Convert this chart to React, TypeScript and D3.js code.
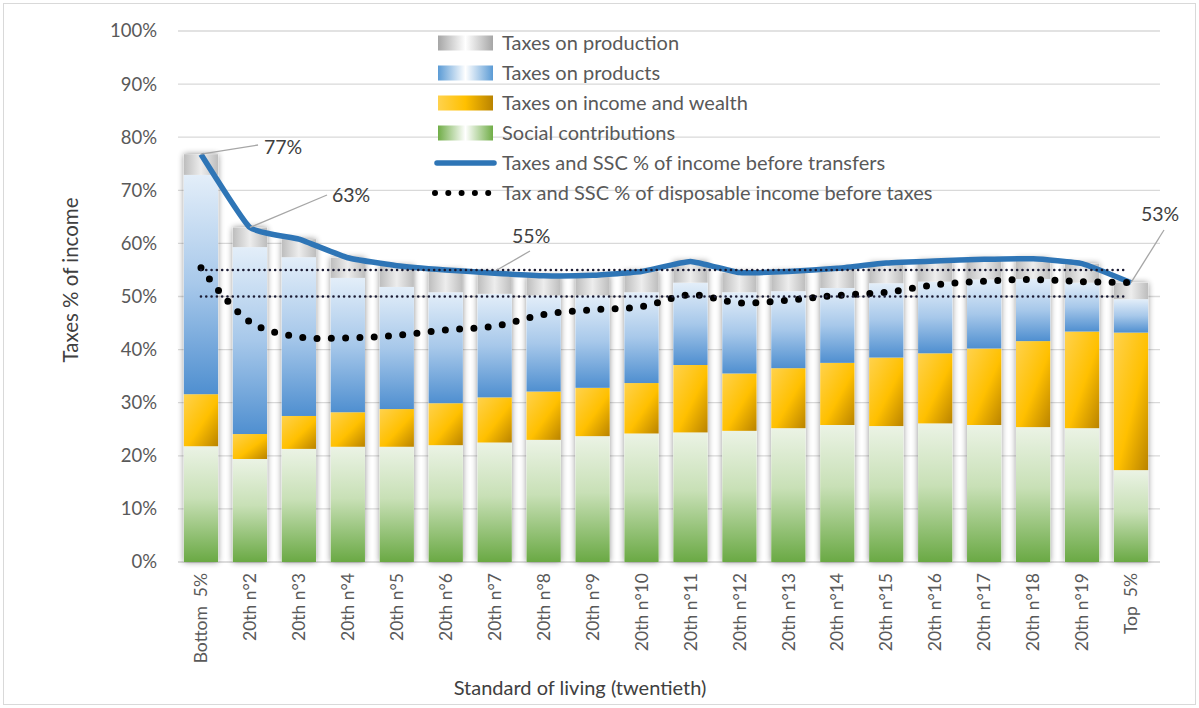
import React from "react";
import * as d3 from "d3";

// values in % of income
const categories = [
  "Bottom  5%", "20th n°2", "20th n°3", "20th n°4", "20th n°5", "20th n°6", "20th n°7",
  "20th n°8", "20th n°9", "20th n°10", "20th n°11", "20th n°12", "20th n°13", "20th n°14",
  "20th n°15", "20th n°16", "20th n°17", "20th n°18", "20th n°19", "Top  5%",
];
const socialContrib = [21.8, 19.4, 21.3, 21.7, 21.7, 22.0, 22.5, 23.0, 23.7, 24.2, 24.4, 24.7, 25.2, 25.8, 25.6, 26.1, 25.8, 25.4, 25.2, 17.3];
const incomeWealth = [9.8, 4.7, 6.2, 6.5, 7.1, 7.9, 8.5, 9.1, 9.1, 9.5, 12.7, 10.8, 11.3, 11.7, 12.9, 13.2, 14.4, 16.2, 18.2, 25.9];
const onProducts = [41.3, 35.2, 29.9, 25.3, 23.0, 20.9, 19.5, 18.1, 17.4, 17.1, 15.5, 15.3, 14.5, 14.1, 14.0, 13.5, 13.0, 11.7, 9.2, 6.3];
const onProduction = [3.9, 3.7, 3.4, 3.8, 4.0, 4.2, 3.9, 3.7, 3.8, 3.9, 4.0, 3.7, 3.7, 3.7, 3.8, 3.9, 3.8, 3.8, 3.6, 3.1];
const beforeTransfers = [76.8, 63.0, 60.8, 57.3, 55.8, 55.0, 54.4, 53.9, 54.0, 54.7, 56.6, 54.5, 54.7, 55.3, 56.3, 56.7, 57.0, 57.1, 56.2, 52.6];
const disposable = [55.4, 45.2, 42.4, 42.2, 42.7, 43.7, 44.4, 46.6, 47.5, 48.1, 50.3, 48.8, 49.3, 50.2, 50.8, 52.2, 52.9, 53.2, 52.8, 52.6];
const refLevels = [55, 50];
const yTicks = [0, 10, 20, 30, 40, 50, 60, 70, 80, 90, 100];

const keys = ["social", "income", "products", "production"];
const fills: Record<string, string> = {
  social: "url(#gGreen)",
  income: "url(#gYellow)",
  products: "url(#gBlue)",
  production: "url(#gGrey)",
};

const font = "Lato, 'Open Sans', sans-serif";
const txt = "#595959";

export default function App() {
  const x = d3.scaleBand().domain(categories).range([176.5, 1155.5]).paddingInner(0.3).paddingOuter(0.15);
  const y = d3.scaleLinear().domain([0, 100]).range([562, 31]);
  const cx = (i: number) => (x(categories[i]) as number) + x.bandwidth() / 2;

  const rows = categories.map((c, i) => ({
    cat: c,
    social: socialContrib[i],
    income: incomeWealth[i],
    products: onProducts[i],
    production: onProduction[i],
  }));
  const series = d3.stack<any>().keys(keys)(rows);

  const blueLine = d3
    .line<number>()
    .x((_, i) => cx(i))
    .y((v) => y(v))
    .curve(d3.curveCardinal.tension(0.6));
  const dotLine = d3
    .line<number>()
    .x((_, i) => cx(i))
    .y((v) => y(v))
    .curve(d3.curveCatmullRom.alpha(0.5));

  const labels = [
    { i: 0, v: beforeTransfers[0], tx: 258, ty: 145, lx: 264, ly: 147, text: "77%" },
    { i: 1, v: beforeTransfers[1], tx: 327, ty: 195, lx: 332, ly: 195, text: "63%" },
    { i: 19, v: beforeTransfers[19], tx: 1164, ty: 230, lx: 1141, ly: 214, text: "53%" },
  ];

  const legendItems = [
    { name: "Taxes on production", kind: "grey" },
    { name: "Taxes on products", kind: "blue" },
    { name: "Taxes on income and wealth", kind: "yellow" },
    { name: "Social contributions", kind: "green" },
    { name: "Taxes and SSC % of income before transfers", kind: "line" },
    { name: "Tax and SSC % of disposable income before taxes", kind: "dots" },
  ];

  return (
    <svg width={1199} height={708} style={{ position: "absolute", left: 0, top: 0, background: "#fff" }} fontFamily={font}>
      <defs>
        <linearGradient id="gGreen" x1="0" y1="0" x2="0" y2="1">
          <stop offset="0" stopColor="#ebf3e5" />
          <stop offset="0.45" stopColor="#c8e0b6" />
          <stop offset="1" stopColor="#6aa944" />
        </linearGradient>
        <linearGradient id="gYellow" x1="0" y1="0" x2="1" y2="1">
          <stop offset="0" stopColor="#ffd24d" />
          <stop offset="0.55" stopColor="#ffc000" />
          <stop offset="1" stopColor="#b98300" />
        </linearGradient>
        <linearGradient id="gBlue" x1="0" y1="0" x2="0" y2="1">
          <stop offset="0" stopColor="#e3eef9" />
          <stop offset="0.5" stopColor="#a7c8ea" />
          <stop offset="1" stopColor="#4f8fd0" />
        </linearGradient>
        <linearGradient id="gGrey" x1="0" y1="0" x2="1" y2="0">
          <stop offset="0" stopColor="#bdbdbd" />
          <stop offset="0.5" stopColor="#ededed" />
          <stop offset="1" stopColor="#bdbdbd" />
        </linearGradient>
        <linearGradient id="lgGrey" x1="0" y1="0" x2="1" y2="0">
          <stop offset="0" stopColor="#a6a6a6" />
          <stop offset="0.5" stopColor="#ffffff" />
          <stop offset="1" stopColor="#a6a6a6" />
        </linearGradient>
        <linearGradient id="lgBlue" x1="0" y1="0" x2="1" y2="0">
          <stop offset="0" stopColor="#5b9bd5" />
          <stop offset="0.5" stopColor="#ffffff" />
          <stop offset="1" stopColor="#5b9bd5" />
        </linearGradient>
        <linearGradient id="lgYellow" x1="0" y1="0" x2="1" y2="0">
          <stop offset="0" stopColor="#ffd24d" />
          <stop offset="0.5" stopColor="#ffc000" />
          <stop offset="1" stopColor="#b98300" />
        </linearGradient>
        <linearGradient id="lgGreen" x1="0" y1="0" x2="1" y2="0">
          <stop offset="0" stopColor="#70ad47" />
          <stop offset="0.5" stopColor="#ffffff" />
          <stop offset="1" stopColor="#70ad47" />
        </linearGradient>
        <filter id="glow" x="-40%" y="-10%" width="180%" height="120%">
          <feGaussianBlur in="SourceAlpha" stdDeviation="3" />
          <feComponentTransfer>
            <feFuncA type="linear" slope="0.45" />
          </feComponentTransfer>
          <feMerge>
            <feMergeNode />
            <feMergeNode in="SourceGraphic" />
          </feMerge>
        </filter>
      </defs>

      <rect x={3.5} y={3.5} width={1192} height={701} fill="#fff" stroke="#d9d9d9" />

      {/* gridlines */}
      {yTicks.map((t) => (
        <g key={t}>
          <line x1={178} x2={1160} y1={y(t)} y2={y(t)} stroke={t === 0 ? "#d0d0d0" : "#d9d9d9"} strokeWidth={1.3} />
          <text x={157} y={y(t)} dy="0.35em" textAnchor="end" fontSize={18.5} fill={txt}>
            {t}%
          </text>
        </g>
      ))}

      {/* bar glow */}
      {rows.map((r, i) => (
        <rect
          key={r.cat}
          x={x(r.cat)}
          width={x.bandwidth()}
          y={y(series[3][i][1])}
          height={y(0) - y(series[3][i][1])}
          fill="#fff"
          filter="url(#glow)"
        />
      ))}

      {/* stacked bars */}
      {series.map((s) => (
        <g key={s.key} fill={fills[s.key]}>
          {s.map((d, i) => (
            <rect key={i} x={x(categories[i])} width={x.bandwidth()} y={y(d[1])} height={y(d[0]) - y(d[1])} />
          ))}
        </g>
      ))}

      {/* lines */}
      <path d={blueLine(beforeTransfers) || ""} fill="none" stroke="#2e75b6" strokeWidth={5.5} strokeLinejoin="round" />
      <path
        d={dotLine(disposable) || ""}
        fill="none"
        stroke="#000"
        strokeWidth={7}
        strokeDasharray="0 14.3"
        strokeLinecap="round"
      />
      {refLevels.map((v) => (
        <line
          key={v}
          x1={cx(0)}
          x2={cx(categories.length - 1) - 4}
          y1={y(v)}
          y2={y(v)}
          stroke="#1b1b33"
          strokeWidth={2.6}
          strokeDasharray="0 5.3"
          strokeLinecap="round"
        />
      ))}

      {/* data labels */}
      {labels.map((l) => (
        <g key={l.text}>
          <line x1={cx(l.i)} y1={y(l.v)} x2={l.tx} y2={l.ty} stroke="#a6a6a6" strokeWidth={1.3} />
          <text x={l.lx} y={l.ly} dy="0.35em" fontSize={19.5} fill="#404040">
            {l.text}
          </text>
        </g>
      ))}
      <line x1={497} y1={y(refLevels[0])} x2={530} y2={251} stroke="#a6a6a6" strokeWidth={1.3} />
      <text x={512} y={236} dy="0.35em" fontSize={19.5} fill="#404040">
        {refLevels[0]}%
      </text>

      {/* legend */}
      {legendItems.map((it, k) => {
        const ly = 43 + k * 30;
        return (
          <g key={it.name}>
            {it.kind === "line" ? (
              <line x1={437} x2={494} y1={ly} y2={ly} stroke="#2e75b6" strokeWidth={5.5} strokeLinecap="round" />
            ) : it.kind === "dots" ? (
              <line x1={435} x2={492} y1={ly} y2={ly} stroke="#000" strokeWidth={6} strokeDasharray="0 13.3" strokeLinecap="round" />
            ) : (
              <rect x={438} y={ly - 7.5} width={55} height={15} fill={`url(#lg${it.kind[0].toUpperCase()}${it.kind.slice(1)})`} />
            )}
            <text x={502} y={ly} dy="0.35em" fontSize={20} fill={txt}>
              {it.name}
            </text>
          </g>
        );
      })}

      {/* x labels */}
      {categories.map((c, i) => (
        <text
          key={c}
          transform={`translate(${cx(i)},573) rotate(-90)`}
          textAnchor="end"
          dy="0.35em"
          fontSize={17.5}
          fill={txt}
          style={{ whiteSpace: "pre" }}
        >
          {c}
        </text>
      ))}

      <text x={580} y={688} dy="0.35em" textAnchor="middle" fontSize={20} fill="#404040">
        Standard of living (twentieth)
      </text>
      <text transform="translate(71,280) rotate(-90)" textAnchor="middle" dy="0.35em" fontSize={20.5} fill="#404040">
        Taxes % of income
      </text>
    </svg>
  );
}
